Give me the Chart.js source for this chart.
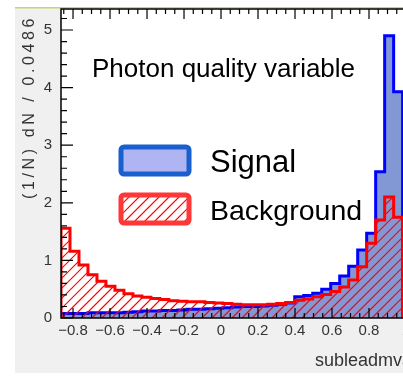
<!DOCTYPE html>
<html><head><meta charset="utf-8">
<script src="https://cdn.jsdelivr.net/npm/chart.js@4.4.1/dist/chart.umd.min.js"></script>
<style>
html,body{margin:0;padding:0;background:#fff;overflow:hidden;width:403px;height:377px;}
#wrap{position:absolute;left:0;top:0;width:412px;height:377px;}
canvas{display:block;}
</style></head><body>
<div id="wrap"><canvas id="c" width="412" height="377"></canvas></div>
<script>
// ---- data ----
const binLowEdges = [-0.8650,-0.8164,-0.7678,-0.7192,-0.6706,-0.6220,-0.5734,-0.5248,-0.4762,-0.4276,
  -0.3790,-0.3304,-0.2818,-0.2332,-0.1846,-0.1360,-0.0874,-0.0388,0.0098,0.0584,
  0.1070,0.1556,0.2042,0.2528,0.3014,0.3500,0.3986,0.4472,0.4958,0.5444,
  0.5930,0.6416,0.6902,0.7388,0.7874,0.8360,0.8846,0.9332];
const binWidth = 0.0486;
const signalValues = [0.08,0.08,0.08,0.09,0.09,0.09,0.09,0.10,0.11,0.12,
  0.12,0.13,0.13,0.14,0.15,0.15,0.16,0.17,0.18,0.19,
  0.20,0.20,0.21,0.22,0.24,0.26,0.37,0.39,0.43,0.50,
  0.60,0.73,0.90,1.18,1.47,2.54,4.90,3.93];
const backgroundValues = [1.56,1.16,0.92,0.75,0.64,0.55,0.48,0.42,0.38,0.36,
  0.34,0.32,0.30,0.29,0.28,0.28,0.27,0.26,0.25,0.24,
  0.23,0.23,0.23,0.24,0.25,0.27,0.31,0.33,0.37,0.41,
  0.46,0.54,0.66,0.89,1.30,1.70,2.10,1.75];
const xTickLabels = [-0.8,-0.6,-0.4,-0.2,0,0.2,0.4,0.6,0.8,1];
const yTickLabels = [0,1,2,3,4,5];
const seriesNames = ['Signal','Background'];
const chartTitle = 'Photon quality variable';
const xTitle = 'subleadmva';
const yTitle = '(1/N) dN / 0.0486';

// ---- helpers ----
function histPoints(vals){
  const pts = [{x: binLowEdges[0], y: 0}];
  vals.forEach((v,i)=>pts.push({x: binLowEdges[i], y: v}));
  const end = binLowEdges[binLowEdges.length-1] + binWidth;
  pts.push({x: end, y: vals[vals.length-1]});
  pts.push({x: end, y: 0});
  return pts;
}
const FONT = '"Liberation Sans", Arial, sans-serif';
const HATCH = 'rgb(255,0,0)';

function hatchLines(ctx, x0, y0, x1, y1, sp){
  const h = y1 - y0;
  ctx.beginPath();
  for (let c = x0 - h - sp; c <= x1 + sp; c += sp){
    ctx.moveTo(c, y1); ctx.lineTo(c + h, y0);
  }
  ctx.strokeStyle = HATCH; ctx.lineWidth = 1.2;
  ctx.stroke();
}

const decor = {
  id: 'decor',
  beforeDraw(chart){
    const ctx = chart.ctx, a = chart.chartArea;
    ctx.save();
    ctx.fillStyle = '#ffffff'; ctx.fillRect(0,0,chart.width,chart.height);
    ctx.fillStyle = 'rgb(240,240,240)'; ctx.fillRect(15,8,chart.width-15,365);
    ctx.fillStyle = 'rgb(200,212,110)'; ctx.fillRect(15,7,chart.width-15,1.5);
    ctx.fillStyle = '#ffffff'; ctx.fillRect(a.left,a.top,a.right-a.left,a.bottom-a.top);
    ctx.restore();
  },
  beforeDatasetDraw(chart, args){
    if (args.index !== 0) return;
    const ctx = chart.ctx, a = chart.chartArea;
    const pts = args.meta.data;
    const base = chart.scales.y.getPixelForValue(0);
    ctx.save();
    ctx.beginPath(); ctx.rect(a.left, a.top, a.right-a.left, a.bottom-a.top); ctx.clip();
    ctx.beginPath();
    ctx.moveTo(pts[0].x, base);
    for (let i = 1; i < pts.length; i++){
      ctx.lineTo(pts[i].x, pts[i-1].y);
      ctx.lineTo(pts[i].x, pts[i].y);
    }
    ctx.lineTo(pts[pts.length-1].x, base);
    ctx.closePath();
    ctx.clip();
    hatchLines(ctx, a.left, a.top, a.right, a.bottom, 10);
    ctx.restore();
  },
  afterDatasetsDraw(chart){
    const ctx = chart.ctx, a = chart.chartArea;
    const xs = chart.scales.x, ys = chart.scales.y;
    ctx.save();
    ctx.strokeStyle = '#000'; ctx.lineWidth = 1.5;
    ctx.strokeRect(a.left, a.top, a.right-a.left, a.bottom-a.top);
    ctx.lineWidth = 1.2;
    ctx.beginPath();
    for (let k=-17; k<=20; k++){
      const px = xs.getPixelForValue(k*0.05);
      if (px < a.left-0.5 || px > a.right+0.5) continue;
      const L = (k % 4 === 0) ? 10 : 5;
      ctx.moveTo(px, a.bottom); ctx.lineTo(px, a.bottom-L);
      ctx.moveTo(px, a.top); ctx.lineTo(px, a.top+L);
    }
    for (let k=0; k<=26; k++){
      const py = ys.getPixelForValue(k*0.2);
      if (py < a.top-0.5) continue;
      const L = (k % 5 === 0) ? 12 : 6;
      ctx.moveTo(a.left, py); ctx.lineTo(a.left+L, py);
    }
    ctx.stroke();
    ctx.restore();
  },
  afterDraw(chart){
    const ctx = chart.ctx;
    ctx.save();
    ctx.fillStyle = '#000';
    ctx.font = '26px ' + FONT;
    ctx.textBaseline = 'alphabetic'; ctx.textAlign = 'left';
    ctx.fillText(chartTitle, 92, 77);
    ctx.lineJoin = 'round';
    ctx.lineWidth = 5;
    ctx.fillStyle = 'rgb(175,180,242)';
    ctx.strokeStyle = 'rgb(25,95,205)';
    ctx.beginPath(); ctx.roundRect(121,147,68,27,3); ctx.fill(); ctx.stroke();
    ctx.fillStyle = '#fff';
    ctx.beginPath(); ctx.roundRect(121,195,68,28,3); ctx.fill();
    ctx.save(); ctx.clip(); hatchLines(ctx, 121, 195, 189, 223, 10); ctx.restore();
    ctx.strokeStyle = 'rgb(255,55,55)';
    ctx.beginPath(); ctx.roundRect(121,195,68,28,3); ctx.stroke();
    ctx.fillStyle = '#000';
    ctx.font = '31px ' + FONT;
    ctx.fillText(seriesNames[0], 210, 172);
    ctx.font = '28.5px ' + FONT;
    ctx.fillText(seriesNames[1], 210, 220);
    ctx.fillStyle = '#333';
    ctx.font = '18px ' + FONT;
    ctx.fillText(xTitle, 315, 366);
    ctx.translate(34, 15);
    ctx.rotate(-Math.PI/2);
    ctx.textAlign = 'right';
    ctx.font = '16px ' + FONT;
    try { ctx.letterSpacing = '3.6px'; } catch(e) {}
    ctx.fillText(yTitle, 0, 0);
    ctx.restore();
  }
};

new Chart(document.getElementById('c'), {
  type: 'line',
  data: {
    datasets: [
      { label: seriesNames[1], data: histPoints(backgroundValues), stepped: 'before',
        borderColor: 'rgb(255,0,0)', borderWidth: 3, fill: false,
        pointRadius: 0, borderJoinStyle: 'miter', borderCapStyle: 'butt' },
      { label: seriesNames[0], data: histPoints(signalValues), stepped: 'before',
        borderColor: 'rgb(0,0,255)', borderWidth: 3, backgroundColor: 'rgb(130,152,212)', fill: 'origin',
        pointRadius: 0, borderJoinStyle: 'miter', borderCapStyle: 'butt' }
    ]
  },
  options: {
    responsive: false, animation: false, devicePixelRatio: 1,
    layout: { padding: { left: 0, top: 9, right: 6, bottom: 0 } },
    plugins: { legend: { display: false }, tooltip: { enabled: false }, title: { display: false } },
    scales: {
      x: { type: 'linear', min: -0.865, max: 1.0,
        grid: { display: false, drawTicks: false }, border: { display: false },
        afterBuildTicks: s => { s.ticks = xTickLabels.map(v => ({ value: v })); },
        afterFit: s => { s.height = 59; s.paddingLeft = 0; s.paddingRight = 0; },
        ticks: { autoSkip: false, maxRotation: 0, padding: 4, color: '#333',
          font: { family: FONT, size: 15 },
          callback: v => (v < 0 ? '\u2212' + String(Math.abs(v)) : String(v)) } },
      y: { type: 'linear', min: 0, max: 5.365,
        grid: { display: false, drawTicks: false }, border: { display: false },
        afterBuildTicks: s => { s.ticks = yTickLabels.map(v => ({ value: v })); },
        afterFit: s => { s.width = 61; s.paddingTop = 0; s.paddingBottom = 0; },
        ticks: { autoSkip: false, padding: 9, color: '#333', font: { family: FONT, size: 15 } } }
    }
  },
  plugins: [decor]
});
</script>
</body></html>
